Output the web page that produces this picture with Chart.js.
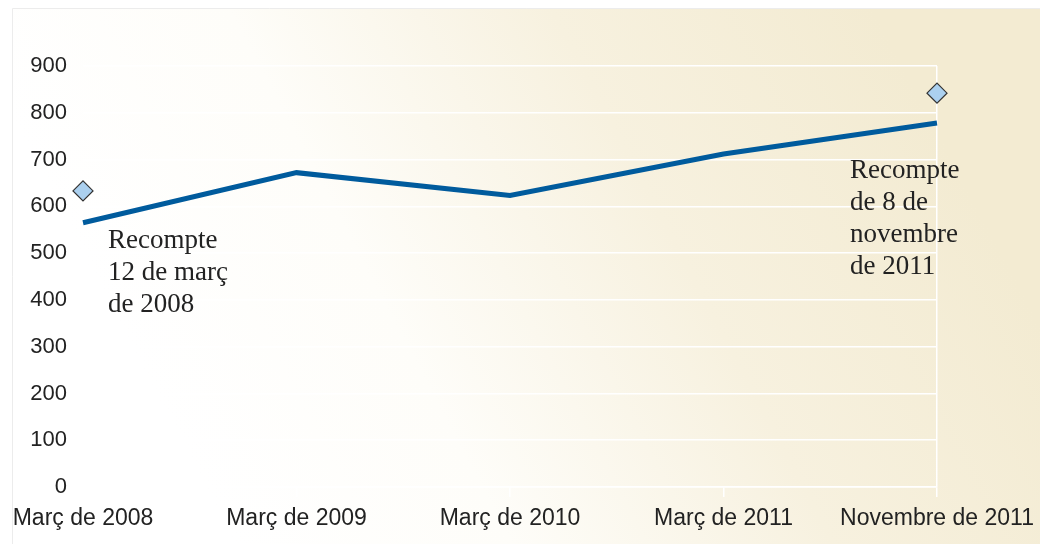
<!DOCTYPE html>
<html lang="ca">
<head>
    <meta charset="UTF-8">
    <title>Recompte</title>
    <script src="https://cdn.jsdelivr.net/npm/chart.js"></script>
    <style>
        html, body { margin: 0; padding: 0; background: #fff; }
    </style>
</head>
<body>
    <canvas id="recompteChart" width="1044" height="544"></canvas>

    <script>
        // Data
        const categories = ['Març de 2008', 'Març de 2009', 'Març de 2010', 'Març de 2011', 'Novembre de 2011'];
        const values = [565, 672, 623, 712, 778];
        const recountMarks = [633, null, null, null, 842];
        const recountNotes = [
            ['Recompte', '12 de març', 'de 2008'],
            null, null, null,
            ['Recompte', 'de 8 de', 'novembre', 'de 2011']
        ];
        const yTicks = [0, 100, 200, 300, 400, 500, 600, 700, 800, 900];

        // beige gradient panel behind the chart
        const panelBg = {
            id: 'panelBg',
            beforeDraw(chart) {
                const c = chart.ctx;
                const g = c.createLinearGradient(180, 440, 900, 60);
                g.addColorStop(0, '#ffffff');
                g.addColorStop(0.3, '#fefdf9');
                g.addColorStop(0.65, '#f7f1df');
                g.addColorStop(1, '#f3ebd2');
                c.save();
                c.fillStyle = g;
                c.fillRect(12, 8, chart.width - 16, chart.height - 8);
                c.strokeStyle = '#ececec';
                c.lineWidth = 1;
                c.beginPath();
                c.moveTo(12.5, chart.height);
                c.lineTo(12.5, 8.5);
                c.lineTo(chart.width - 4, 8.5);
                c.stroke();
                c.restore();
            }
        };

        // text notes next to the recount points
        const notes = {
            id: 'notes',
            afterDatasetsDraw(chart) {
                const c = chart.ctx;
                const meta = chart.getDatasetMeta(0);
                c.save();
                c.font = '27px "Liberation Serif", "Times New Roman", serif';
                c.fillStyle = '#222';
                c.textBaseline = 'middle';
                c.textAlign = 'left';
                recountNotes.forEach((lines, i) => {
                    if (!lines) return;
                    const pt = meta.data[i];
                    const x = i === 0 ? pt.x + 25 : pt.x - 87;
                    const y0 = i === 0 ? pt.y + 18 : pt.y + 48;
                    lines.forEach((t, k) => c.fillText(t, x, y0 + k * 32));
                });
                c.restore();
            }
        };

        const ctx = document.getElementById('recompteChart').getContext('2d');
        new Chart(ctx, {
            type: 'line',
            data: {
                labels: categories,
                datasets: [{
                    data: values,
                    borderColor: '#005b9d',
                    borderWidth: 5,
                    pointRadius: 0,
                    tension: 0,
                    fill: false
                }, {
                    data: recountMarks,
                    showLine: false,
                    pointStyle: 'rectRot',
                    pointRadius: 10,
                    pointBackgroundColor: '#abd0ef',
                    pointBorderColor: '#333',
                    pointBorderWidth: 1.2
                }]
            },
            options: {
                responsive: false,
                animation: false,
                devicePixelRatio: 1,
                layout: { padding: { left: 20, right: 107, top: 66, bottom: 10 } },
                plugins: { legend: { display: false }, tooltip: { enabled: false } },
                scales: {
                    x: {
                        offset: false,
                        grid: {
                            color: c => c.index === categories.length - 1 ? '#ffffff' : 'rgba(0,0,0,0)',
                            tickColor: '#ffffff',
                            tickLength: 10,
                            lineWidth: 1.5
                        },
                        border: { color: '#ffffff', width: 1.5 },
                        ticks: {
                            color: '#222',
                            font: { family: '"Liberation Sans", Arial, sans-serif', size: 23 },
                            maxRotation: 0,
                            autoSkip: false,
                            padding: 8
                        },
                        afterFit: s => { s.height = 47; }
                    },
                    y: {
                        min: 0,
                        max: 900,
                        afterBuildTicks: s => { s.ticks = yTicks.map(v => ({ value: v })); },
                        grid: { color: '#ffffff', lineWidth: 1.5, drawTicks: false },
                        border: { display: false },
                        ticks: {
                            color: '#222',
                            font: { family: '"Liberation Sans", Arial, sans-serif', size: 22 },
                            padding: 16
                        },
                        afterFit: s => { s.width = 63; }
                    }
                }
            },
            plugins: [panelBg, notes]
        });
    </script>
</body>
</html>
